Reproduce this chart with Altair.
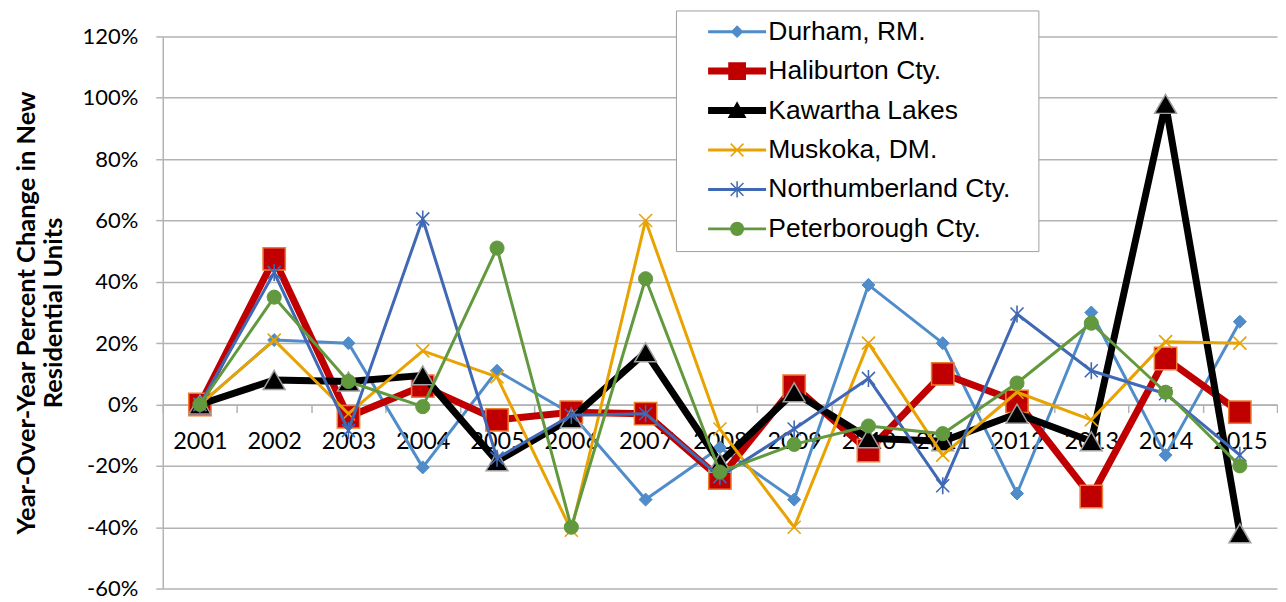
import altair as alt
import pandas as pd

years = [str(y) for y in range(2001, 2016)]
series_names = [
    "Durham, RM.",
    "Haliburton Cty.",
    "Kawartha Lakes",
    "Muskoka, DM.",
    "Northumberland Cty.",
    "Peterborough Cty.",
]
durham = [0, 21, 20, -20.5, 11, -3, -31, -14, -31, 39, 20, -29, 30, -16.5, 27]
haliburton = [0, 47.5, -4, 6, -5, -2.5, -3, -24, 6, -15, 10, 1, -30, 15, -2.5]
kawartha = [0, 8, 7.5, 9.5, -18.5, -4.5, 17, -19, 4, -11, -12, -3, -12, 98, -42]
muskoka = [0, 21, -3, 17.5, 9, -41, 60, -8, -40, 20, -16.5, 4, -5, 20.5, 20]
northumberland = [0, 43, -8.5, 60.5, -17.5, -3.5, -3, -23.5, -8, 8.5, -26.5, 29.5, 11, 3.5, -16.5]
peterborough = [0, 35, 7.5, -0.7, 51, -40, 41, -22, -13, -7, -9.5, 7, 26.5, 4, -20]
all_values = [durham, haliburton, kawartha, muskoka, northumberland, peterborough]

line_colors = ["#4F8CC9", "#C00000", "#000000", "#E8A202", "#3F68B5", "#62993E"]
marker_fills = ["#4F8CC9", "#C00000", "#000000", "#E8A202", "#3F68B5", "#62993E"]
marker_strokes = ["#4F8CC9", "#ED7D31", "#A0A0A0", "#E8A202", "#3F68B5", "#62993E"]
X_PATH = "M-1,-1L1,1M-1,1L1,-1"
STAR_PATH = "M-1,-1L1,1M-1,1L1,-1M0,-1.3L0,1.3"
marker_shapes = ["diamond", "square", "triangle-up", X_PATH, STAR_PATH, "circle"]
line_widths = [3, 7, 7, 3, 3, 3]
marker_sizes = [170, 500, 480, 170, 170, 200]
marker_stroke_widths = [1, 1.5, 1.5, 1.6, 1.6, 1]

# legend symbols: line segment + marker (unit coordinates, scaled by sqrt(size)/2)
THIN_BAR = "M-4,-0.1H4V0.1H-4Z"
THICK_BAR = "M-4,-0.39H4V0.39H-4Z"
legend_paths = [
    THIN_BAR + "M0,-0.75L0.75,0L0,0.75L-0.75,0Z",
    THICK_BAR + "M-1.15,-1.15H1.15V1.15H-1.15Z",
    THICK_BAR + "M0,-1.1L1.15,0.95H-1.15Z",
    THIN_BAR + "M-0.9,-0.9L0.9,0.9M-0.9,0.9L0.9,-0.9",
    THIN_BAR + "M-0.9,-0.9L0.9,0.9M-0.9,0.9L0.9,-0.9M0,-1.15L0,1.15",
    THIN_BAR + "M-0.9,0A0.9,0.9 0 1,1 0.9,0A0.9,0.9 0 1,1 -0.9,0Z",
]

rows = []
for name, vals in zip(series_names, all_values):
    for yr, v in zip(years, vals):
        rows.append({"year": yr, "series": name, "value": v})
df = pd.DataFrame(rows)

W, H = 1116, 553
zero_offset = -H * 60 / 180

GRID = "#B3B3B3"

x_enc = alt.X(
    "year:O",
    bandPosition=0.5,
    scale=alt.Scale(type="band", paddingInner=0, paddingOuter=0),
    axis=alt.Axis(
        title=None,
        labelAngle=0,
        tickBand="extent",
        offset=zero_offset,
        domainColor=GRID,
        domainWidth=1.5,
        tickColor=GRID,
        tickWidth=1.5,
        tickSize=8,
        labelPadding=17,
        labelFont="Lato",
        labelFontSize=23.5,
        labelColor="#000000",
        grid=False,
    ),
)
y_enc = alt.Y(
    "value:Q",
    scale=alt.Scale(domain=[-60, 120], nice=False, zero=False),
    axis=alt.Axis(
        values=list(range(-60, 121, 20)),
        labelExpr="datum.value + '%'",
        title=["Year-Over-Year Percent Change in New", "Residential Units"],
        titleFont="Lato",
        titleFontSize=25.5,
        titleFontWeight="bold",
        titleLineHeight=28,
        titleColor="#000000",
        titlePadding=15,
        labelFont="Lato",
        labelFontSize=22,
        labelColor="#000000",
        labelPadding=18,
        tickSize=7,
        tickColor=GRID,
        tickWidth=1.5,
        domainColor=GRID,
        domainWidth=1.5,
        grid=True,
        gridColor=GRID,
        gridWidth=1.5,
    ),
)

legend = alt.Legend(
    title="\u00a0",
    titleOrient="right",
    titlePadding=20,
    titleFontSize=4,
    orient="none",
    legendX=514,
    legendY=-26,
    labelFont="Liberation Sans",
    labelFontSize=26.5,
    labelColor="#000000",
    labelLimit=500,
    symbolSize=200,
    symbolStrokeWidth=1.5,
    symbolOffset=40,
    labelOffset=18,
    rowPadding=12.5,
    padding=8,
    strokeColor="#A0A0A0",
    fillColor="#FFFFFF",
)

layers = []
for i, name in enumerate(series_names):
    base = alt.Chart().transform_filter(alt.datum.series == name)
    line = base.mark_line(
        color=line_colors[i], strokeWidth=line_widths[i], strokeJoin="round", strokeCap="round"
    ).encode(x=x_enc, y=y_enc)
    pts = base.mark_point(
        filled=True, size=marker_sizes[i], strokeWidth=marker_stroke_widths[i], opacity=1
    ).encode(
        x=x_enc,
        y=y_enc,
        shape=alt.Shape("series:N", scale=alt.Scale(domain=series_names, range=marker_shapes), legend=None),
        fill=alt.Fill("series:N", scale=alt.Scale(domain=series_names, range=marker_fills), legend=None),
        stroke=alt.Stroke("series:N", scale=alt.Scale(domain=series_names, range=marker_strokes), legend=None),
    )
    layers += [line, pts]

# legend-only layer (no rows drawn): line segment + marker symbols
legend_layer = (
    alt.Chart()
    .transform_filter("false")
    .mark_point(filled=True, opacity=1)
    .encode(
        x=x_enc,
        y=y_enc,
        shape=alt.Shape("series:N", scale=alt.Scale(domain=series_names, range=legend_paths), legend=legend),
        fill=alt.Fill("series:N", scale=alt.Scale(domain=series_names, range=line_colors), legend=legend),
        stroke=alt.Stroke("series:N", scale=alt.Scale(domain=series_names, range=line_colors), legend=legend),
    )
)
layers.append(legend_layer)

chart = (
    alt.layer(*layers, data=df)
    .resolve_scale(shape="independent", fill="independent", stroke="independent")
    .properties(width=W, height=H, padding={"left": 6, "top": 1, "right": 0, "bottom": 0}, background="#FFFFFF")
    .configure_view(stroke=None)
)

chart.save("out.html", embed_options={"renderer": "svg", "actions": False})
